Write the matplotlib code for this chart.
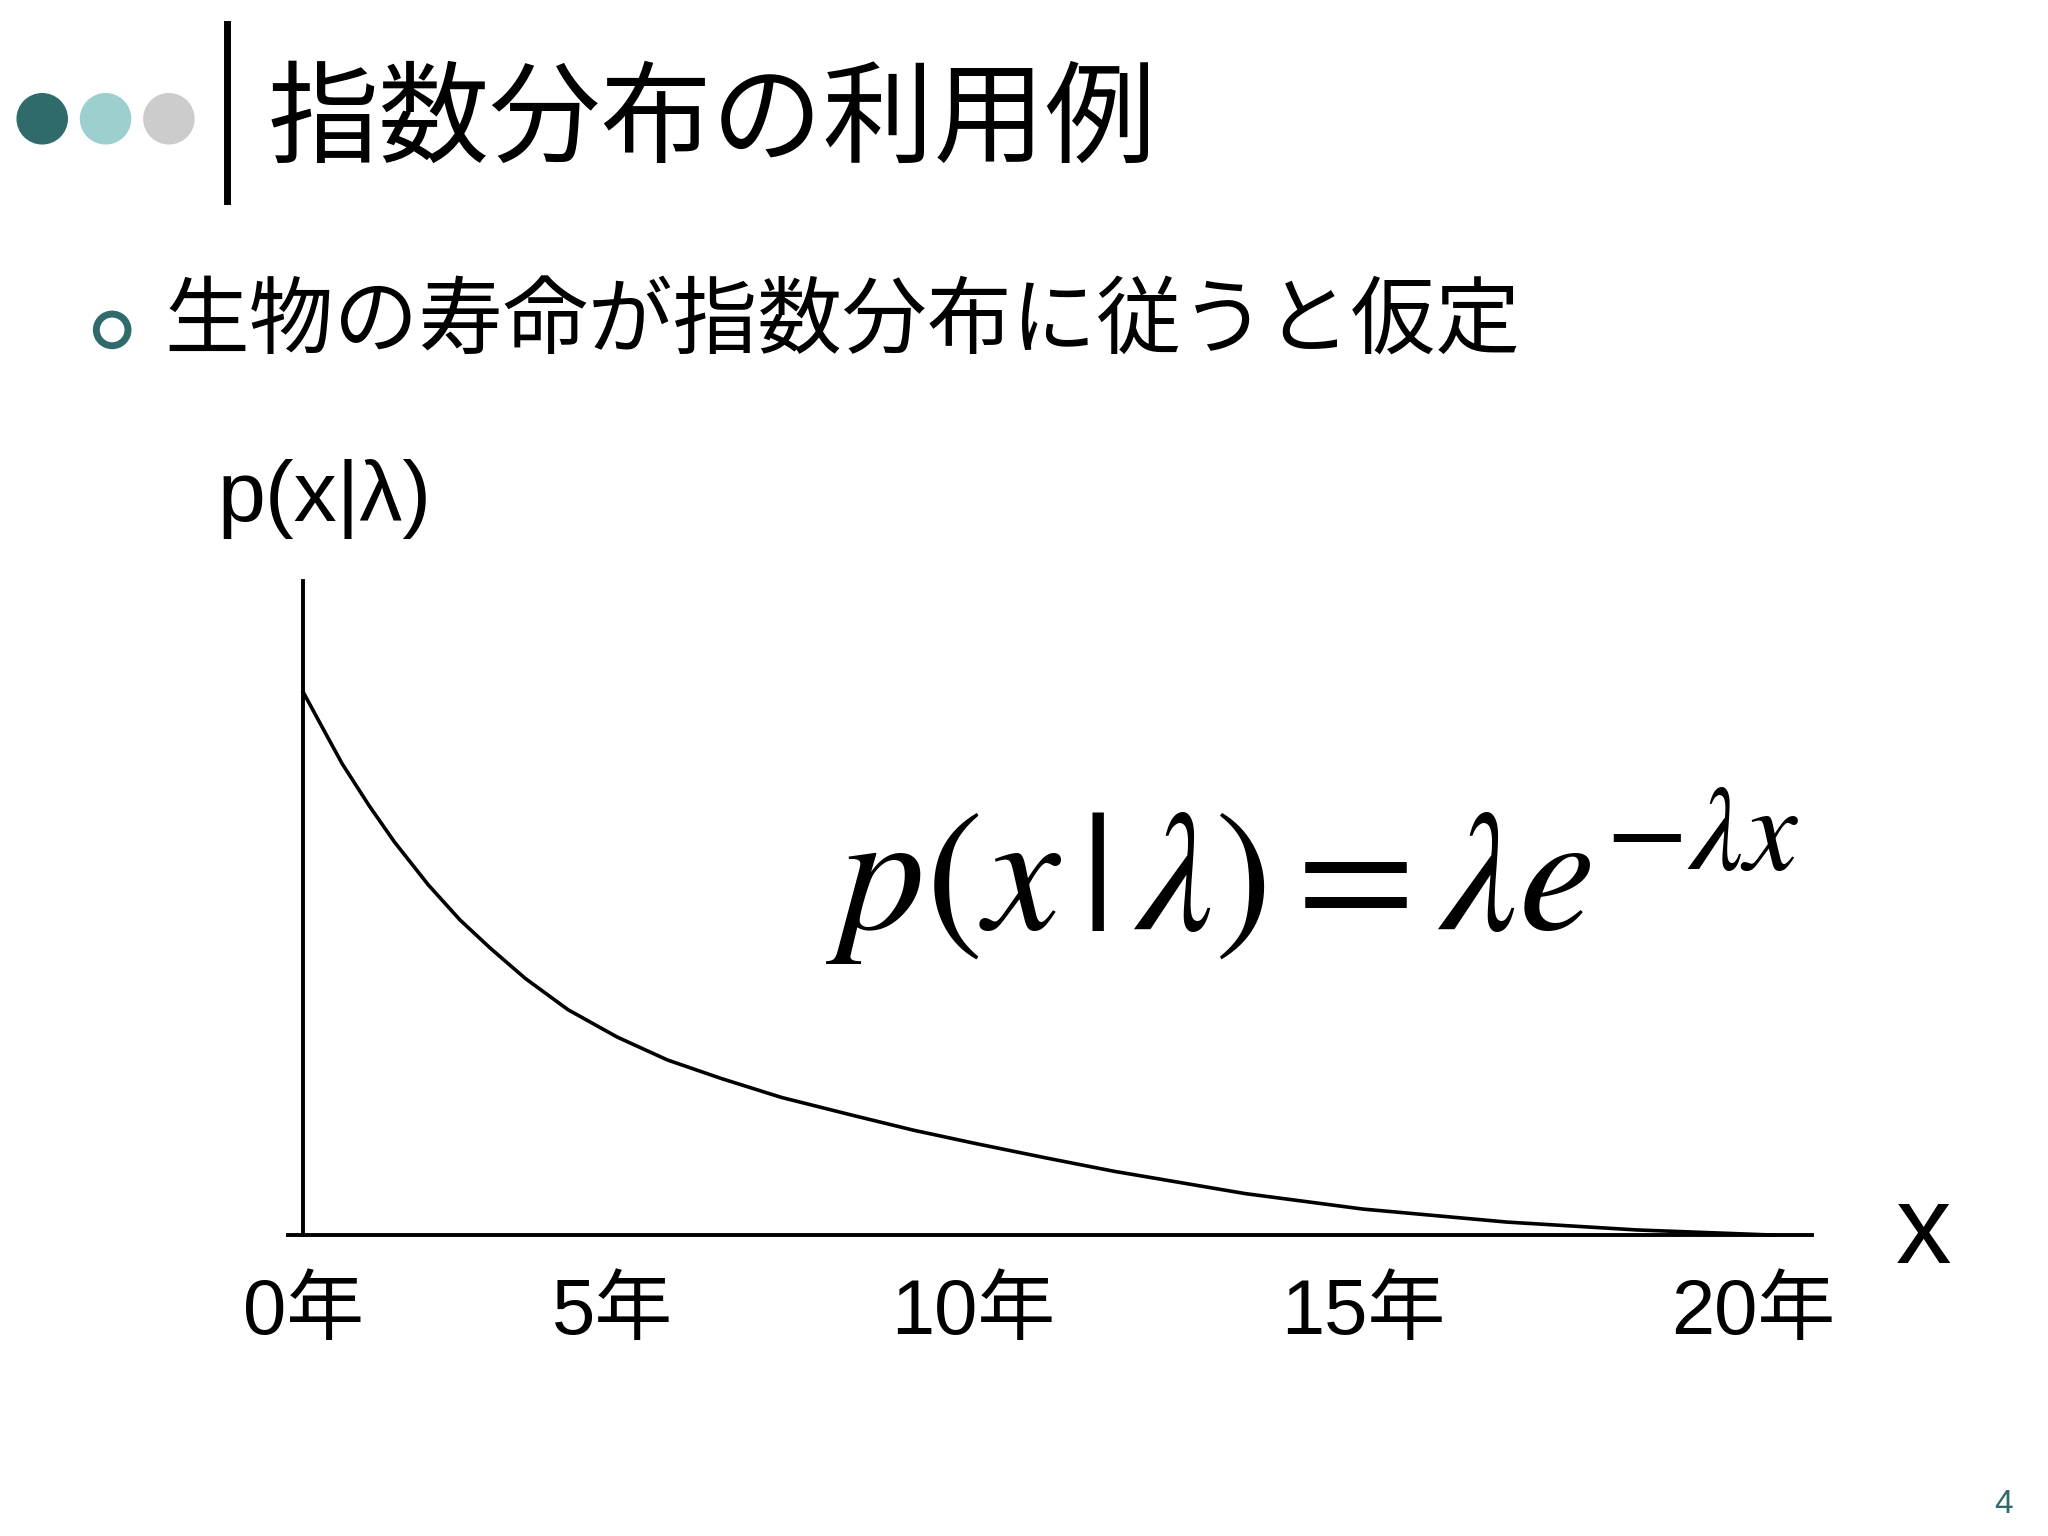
import matplotlib
matplotlib.use("Agg")
import matplotlib.pyplot as plt
from matplotlib.patches import Circle

plt.rcParams['font.family'] = ['Noto Sans CJK JP', 'DejaVu Sans']
plt.rcParams['mathtext.fontset'] = 'stix'

years = [0, 0.27, 0.53, 0.9, 1.24, 1.7, 2.13, 2.55, 3.02, 3.6, 4.27, 4.95, 5.69, 6.5, 7.47,
         8.3, 9.16, 10.1, 11.02, 12.8, 14.4, 16.36, 18.13, 20]
density = [0.2, 0.1865, 0.1736, 0.158, 0.1448, 0.129, 0.1161, 0.1055, 0.0945, 0.083, 0.0729,
           0.0645, 0.0576, 0.0507, 0.0441, 0.0386, 0.0336, 0.0284, 0.0235, 0.0153, 0.0096,
           0.0048, 0.0019, 0.0]
tick_pos = [0, 4.2, 9.1, 14.4, 19.7]
tick_labels = ['0年', '5年', '10年', '15年', '20年']
title = '指数分布の利用例'
bullet = '生物の寿命が指数分布に従うと仮定'

W, H = 1552, 1164
fig = plt.figure(figsize=(20.48, 15.36), dpi=100)
fx = lambda x: x / W
fy = lambda y: 1 - y / H

deco = fig.add_axes([0, 0, 1, 1]); deco.set_xlim(0, W); deco.set_ylim(H, 0); deco.axis('off')
for cx, c in zip([32, 80, 128], ['#2f6b6b', '#9dcfcf', '#cccccc']):
    deco.add_patch(Circle((cx, 90), 19, color=c))
deco.plot([172, 172], [18, 152], color='black', lw=5)
deco.add_patch(Circle((85, 250), 12, fill=False, ec='#2f6b6b', lw=5))

fig.text(fx(203), fy(92), title, fontsize=80, va='center', ha='left')
fig.text(fx(125), fy(245), bullet, fontsize=61, va='center', ha='left')
fig.text(fx(165), fy(378), 'p(x|λ)', fontsize=62, va='center', ha='left', family=['Liberation Sans'])
fig.text(fx(1458), fy(935), 'x', fontsize=80, va='center', ha='center', family=['Liberation Sans'])
fig.text(fx(1518), fy(1140), '4', fontsize=24, va='center', ha='center', color='#2f6b6b', family=['Liberation Sans'])
fig.text(fx(995), fy(665), r'$p(x\,|\,\lambda) = \lambda e^{-\lambda x}$', fontsize=124, va='center', ha='center')

ax = fig.add_axes([fx(218), fy(936), fx(1373) - fx(218), (936 - 440) / H])
ax.set_xlim(-0.21, 20.5); ax.set_ylim(0, 0.241)
ax.patch.set_alpha(0)
ax.plot(years, density, color='black', lw=2.6, clip_on=False)
for s in ['top', 'right']:
    ax.spines[s].set_visible(False)
ax.spines['left'].set_position(('data', 0))
ax.spines['left'].set_linewidth(2.8)
ax.spines['bottom'].set_linewidth(2.8)
ax.set_yticks([])
ax.set_xticks(tick_pos)
ax.set_xticklabels(tick_labels, fontsize=56, family=['Liberation Sans', 'Noto Sans CJK JP'])
ax.tick_params(axis='x', length=0, pad=30)

fig.savefig('out.png', dpi=100)
